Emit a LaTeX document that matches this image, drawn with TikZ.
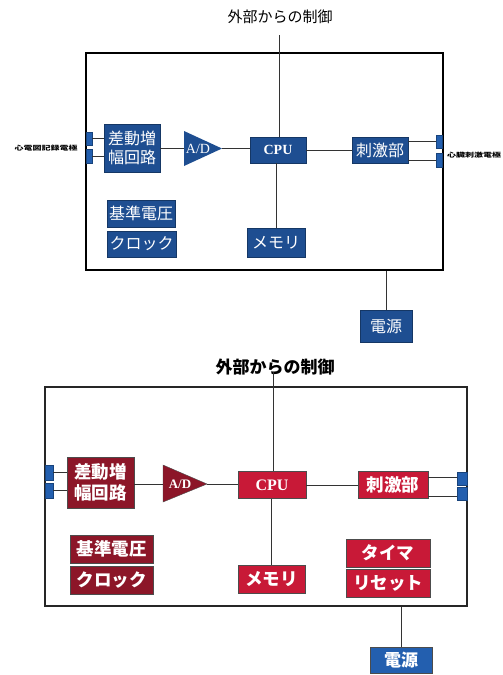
\documentclass[tikz,border=0pt]{standalone}
\usepackage{fontspec}
\newfontfamily\jp{Noto Sans CJK JP}
\newfontfamily\lser{Liberation Serif}
\definecolor{boxblue}{RGB}{30,78,145}
\definecolor{portblue}{RGB}{35,95,175}
\definecolor{redbright}{RGB}{200,25,55}
\definecolor{reddark}{RGB}{140,22,40}
\tikzset{
  bluebox/.style={draw=boxblue!70!black, fill=boxblue, text=white, inner sep=0pt, font=\jp\fontsize{16}{19}\selectfont},
  redbox/.style={draw=black!70, line width=0.8pt, fill=redbright, text=white, inner sep=0pt, font=\jp\bfseries\fontsize{17.5}{21}\selectfont},
  darkbox/.style={draw=black!70, line width=0.8pt, fill=reddark, text=white, inner sep=0pt, font=\jp\bfseries\fontsize{17.5}{21}\selectfont},
  port/.style={fill=portblue, draw=portblue!70!black, inner sep=0pt},
  wire/.style={line width=0.8pt, black!80},
  sidelabel/.style={font=\jp\bfseries\fontsize{9}{9}\selectfont, inner sep=0pt, yscale=0.7}
}
\begin{document}
\begin{tikzpicture}[x=1pt,y=-1pt]
\useasboundingbox (0,0) rectangle (503,675);
\fill[white] (0,0) rectangle (503,675);

% ===== top diagram =====
\node[font=\jp\fontsize{15}{18}\selectfont] (title1) at (280,17) {外部からの制御};
\coordinate (ctl1) at (279,35);
\node[draw, line width=1.2pt, minimum width=357, minimum height=217, inner sep=0pt] (frame1) at (264.5,161.5) {};

\node[port, minimum width=6, minimum height=13] (lp1a) at (89,138.5) {};
\node[port, minimum width=6, minimum height=14] (lp1b) at (89,156) {};
\node[bluebox, minimum width=56, minimum height=48, align=center] (diff1) at (132,148) {差動増\\幅回路};
\coordinate (ad1in) at (184,148.5);
\coordinate (ad1out) at (222,148.5);
\fill[boxblue] (184,131) -- (222,148.5) -- (184,166) -- cycle;
\node[text=white, font=\lser\fontsize{14}{16}\selectfont, inner sep=0pt] (ad1) at (198,149) {A/D};
\node[bluebox, minimum width=56, minimum height=26, font=\lser\bfseries\fontsize{14}{16}\selectfont] (cpu1) at (278,150) {CPU};
\node[bluebox, minimum width=56, minimum height=26] (stim1) at (380,150) {刺激部};
\node[port, minimum width=6, minimum height=13] (rp1a) at (439,141.5) {};
\node[port, minimum width=6, minimum height=14] (rp1b) at (439,160) {};
\node[bluebox, minimum width=68, minimum height=27] (ref1) at (141,213.5) {基準電圧};
\node[bluebox, minimum width=69, minimum height=26] (clk1) at (141.5,244) {クロック};
\node[bluebox, minimum width=58, minimum height=29] (mem1) at (276,242.5) {メモリ};
\node[bluebox, minimum width=52, minimum height=32] (psu1) at (386,326) {電源};
\node[sidelabel] (ll1) at (46,148) {心電図記録電極};
\node[sidelabel] (rl1) at (474,155) {心臓刺激電極};

\draw[wire] (ctl1) -- (cpu1.north -| ctl1);
\draw[wire] (lp1a.east) -- (lp1a.east -| diff1.west);
\draw[wire] (lp1b.east) -- (lp1b.east -| diff1.west);
\draw[wire] (diff1.east |- ad1in) -- (ad1in);
\draw[wire] (ad1out) -- (ad1out -| cpu1.west);
\draw[wire] (cpu1.east) -- (stim1.west);
\draw[wire] (rp1a.west) -- (rp1a.west -| stim1.east);
\draw[wire] (rp1b.west) -- (rp1b.west -| stim1.east);
\draw[wire] (cpu1.south -| mem1.north) -- (mem1.north);
\draw[wire] (psu1.north |- frame1.south) -- (psu1.north);

% ===== bottom diagram =====
\node[font=\jp\bfseries\fontsize{17}{20}\selectfont] (title2) at (275,367) {外部からの制御};
\coordinate (ctl2) at (273,372);
\node[draw=black!85, line width=2.4pt, minimum width=422, minimum height=219, inner sep=0pt] (frame2) at (256,496.5) {};

\node[port, minimum width=8, minimum height=15] (lp2a) at (49,472.5) {};
\node[port, minimum width=8, minimum height=15] (lp2b) at (49,490.5) {};
\node[darkbox, minimum width=67, minimum height=51, align=center] (diff2) at (100.5,482.5) {差動増\\幅回路};
\coordinate (ad2in) at (163,484);
\coordinate (ad2out) at (207,484);
\draw[black!70, fill=reddark] (163,465) -- (207,484) -- (163,502) -- cycle;
\node[text=white, font=\lser\bfseries\fontsize{13}{15}\selectfont, inner sep=0pt] (ad2) at (180,484) {A/D};
\node[redbox, minimum width=68, minimum height=27, font=\lser\bfseries\fontsize{16}{18}\selectfont] (cpu2) at (272,485) {CPU};
\node[redbox, minimum width=70, minimum height=27] (stim2) at (393,485) {刺激部};
\node[port, minimum width=10, minimum height=13] (rp2a) at (462,478.5) {};
\node[port, minimum width=10, minimum height=13] (rp2b) at (462,493.5) {};
\node[darkbox, minimum width=83, minimum height=28] (ref2) at (111.5,549) {基準電圧};
\node[darkbox, minimum width=83, minimum height=28] (clk2) at (111.5,580) {クロック};
\node[redbox, minimum width=67, minimum height=28] (mem2) at (271.5,579) {メモリ};
\node[redbox, minimum width=84, minimum height=28] (tmr2) at (388,553) {タイマ};
\node[redbox, minimum width=84, minimum height=28] (rst2) at (388,583) {リセット};
\node[draw=black!70, fill=portblue, text=white, inner sep=0pt, font=\jp\bfseries\fontsize{17}{20}\selectfont, minimum width=62, minimum height=26] (psu2) at (401,660) {電源};

\draw[wire] (ctl2) -- (cpu2.north -| ctl2);
\draw[wire] (lp2a.east) -- (lp2a.east -| diff2.west);
\draw[wire] (lp2b.east) -- (lp2b.east -| diff2.west);
\draw[wire] (diff2.east |- ad2in) -- (ad2in);
\draw[wire] (ad2out) -- (ad2out -| cpu2.west);
\draw[wire] (cpu2.east) -- (stim2.west);
\draw[wire] (rp2a.west |- 0,477) -- (stim2.east |- 0,477);
\draw[wire] (rp2b.west |- 0,496) -- (stim2.east |- 0,496);
\draw[wire] (cpu2.south -| mem2.north) -- (mem2.north);
\draw[wire] (psu2.north |- frame2.south) -- (psu2.north);
\end{tikzpicture}
\end{document}
